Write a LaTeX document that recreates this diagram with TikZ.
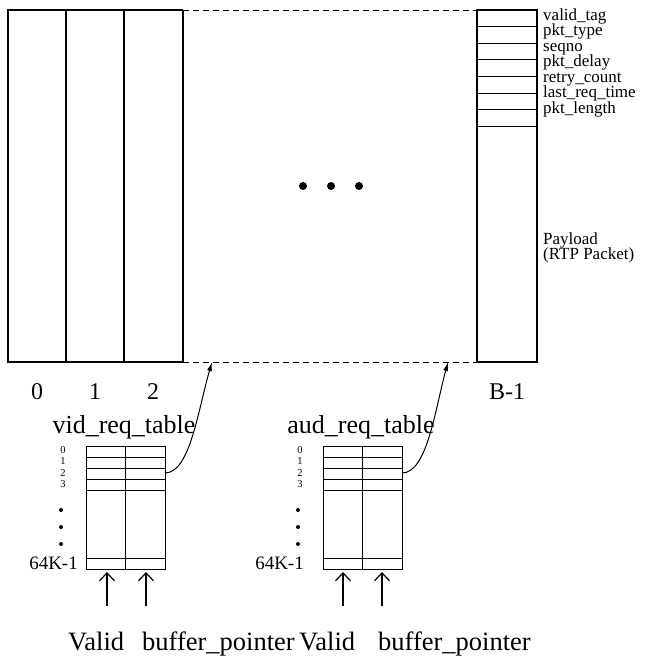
\documentclass[tikz,border=0pt]{standalone}
\usepackage{fontspec}
\setmainfont{Liberation Serif}
\usetikzlibrary{arrows.meta}
\begin{document}
\begin{tikzpicture}[x=1pt,y=-1pt,
    frameline/.style={line width=1.1pt},
    dashline/.style={line width=1pt,dash pattern=on 6pt off 4pt},
    tblline/.style={line width=0.9pt},
    ptr/.style={line width=1pt,-{Latex[length=9pt,width=5pt]}},
    uparrow/.style={line width=1.2pt,-{Straight Barb[length=8pt,width=15pt]}},
    numlbl/.style={font=\fontsize{24}{24}\selectfont,inner sep=0pt},
    fieldlbl/.style={font=\fontsize{17}{15.5}\selectfont,inner sep=0pt,anchor=north west,align=left},
    rowlbl/.style={font=\fontsize{10.5}{11.3}\selectfont,inner sep=0pt,align=center},
    lastlbl/.style={font=\fontsize{19}{19}\selectfont,inner sep=0pt,anchor=east},
    tbllbl/.style={font=\fontsize{26}{26}\selectfont,inner sep=0pt},
    footlbl/.style={font=\fontsize{26.5}{26.5}\selectfont,inner sep=0pt,anchor=base west}]
\useasboundingbox (0,0) rectangle (659,656);

% buffer slots 0 .. B-1
\draw[frameline] (183,10) -- (8,10) -- (8,362) -- (183,362);
\draw[frameline] (66,10) -- (66,362);
\draw[frameline] (124,10) -- (124,362);
\draw[frameline] (183,10) -- (183,362);
\draw[dashline] (183,10) -- (477,10);
\draw[dashline] (183,362) -- (477,362);
\draw[frameline] (477,10) rectangle (537,362);
\draw[tblline] (477,26) -- (537,26);
\draw[tblline] (477,43) -- (537,43);
\draw[tblline] (477,59) -- (537,59);
\draw[tblline] (477,76) -- (537,76);
\draw[tblline] (477,93) -- (537,93);
\draw[tblline] (477,109) -- (537,109);
\draw[tblline] (477,126) -- (537,126);
\fill (303,186) circle (4pt);
\fill (331,186) circle (4pt);
\fill (359,186) circle (4pt);
\coordinate (vidptr) at (212,362);
\coordinate (audptr) at (448,362);

% slot header fields
\node[fieldlbl] (fields) at (543,8.4) {valid\_tag\\pkt\_type\\seqno\\pkt\_delay\\retry\_count\\last\_req\_time\\pkt\_length};
\node[fieldlbl] (payload) at (543,232.4) {Payload\\(RTP Packet)};

% slot numbers
\node[numlbl] (slot0) at (37,392) {0};
\node[numlbl] (slot1) at (95,392) {1};
\node[numlbl] (slot2) at (153,392) {2};
\node[numlbl] (slotlast) at (507,392) {B-1};

% video request table
\node[tbllbl] (vidtab) at (124,427) {vid\_req\_table};
\draw[tblline] (86,446) rectangle (165,569);
\draw[tblline] (125,446) -- (125,569);
\draw[tblline] (86,457) -- (165,457);
\draw[tblline] (86,468) -- (165,468);
\draw[tblline] (86,479) -- (165,479);
\draw[tblline] (86,490) -- (165,490);
\draw[tblline] (86,558) -- (165,558);
\node[rowlbl] (vidrows) at (63,467) {0\\1\\2\\3};
\fill (61,510) circle (2pt);
\fill (61,527) circle (2pt);
\fill (61,544) circle (2pt);
\node[lastlbl] (vidlast) at (78,563) {64K-1};
\coordinate (vidrow) at (165,473);
\draw[ptr] (vidrow) .. controls (190,473) and (198,410) .. (vidptr);
\coordinate (vidvalid) at (107,572);
\coordinate (vidbuf) at (146,572);
\coordinate (vidvalidfoot) at (107,606);
\coordinate (vidbuffoot) at (146,606);
\draw[uparrow] (vidvalidfoot) -- (vidvalid);
\draw[uparrow] (vidbuffoot) -- (vidbuf);

% audio request table
\node[tbllbl] (audtab) at (361,427) {aud\_req\_table};
\draw[tblline] (323,446) rectangle (402,569);
\draw[tblline] (362,446) -- (362,569);
\draw[tblline] (323,457) -- (402,457);
\draw[tblline] (323,468) -- (402,468);
\draw[tblline] (323,479) -- (402,479);
\draw[tblline] (323,490) -- (402,490);
\draw[tblline] (323,558) -- (402,558);
\node[rowlbl] (audrows) at (300,467) {0\\1\\2\\3};
\fill (298,510) circle (2pt);
\fill (298,527) circle (2pt);
\fill (298,544) circle (2pt);
\node[lastlbl] (audlast) at (304,563) {64K-1};
\coordinate (audrow) at (402,473);
\draw[ptr] (audrow) .. controls (427,473) and (435,410) .. (audptr);
\coordinate (audvalid) at (343,572);
\coordinate (audbuf) at (382,572);
\coordinate (audvalidfoot) at (343,606);
\coordinate (audbuffoot) at (382,606);
\draw[uparrow] (audvalidfoot) -- (audvalid);
\draw[uparrow] (audbuffoot) -- (audbuf);

% field names under the tables
\node[footlbl] (vidvalidlbl) at (68,650) {Valid};
\node[footlbl] (vidbuflbl) at (142,650) {buffer\_pointer};
\node[footlbl] (audvalidlbl) at (299,650) {Valid};
\node[footlbl] (audbuflbl) at (378,650) {buffer\_pointer};
\end{tikzpicture}
\end{document}
